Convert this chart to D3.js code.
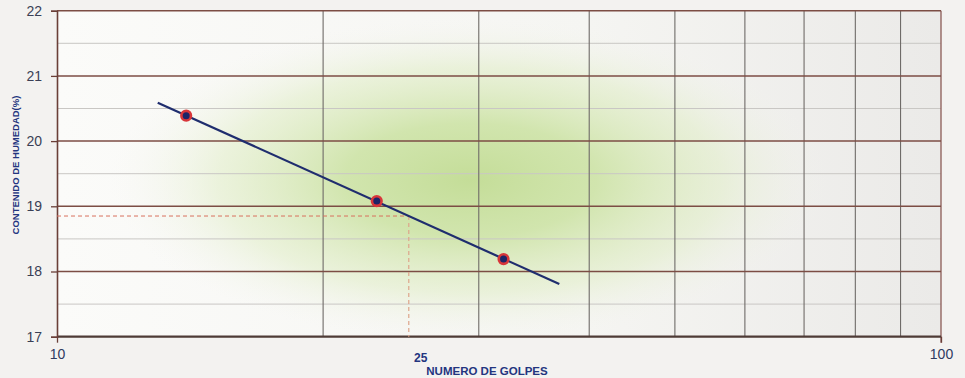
<!DOCTYPE html>
<html>
<head>
<meta charset="utf-8">
<script src="https://cdn.jsdelivr.net/npm/d3@7"></script>
<style>
  html, body { margin: 0; padding: 0; background: #f3f2f0; }
  svg { display: block; }
</style>
</head>
<body>
<svg id="chart" width="965" height="378"></svg>
<script>
// Liquid limit test: number of blows vs. moisture content
const golpes = [14, 23, 32];
const humedad = [20.39, 19.08, 18.19];
const xTicks = [10, 100];
const xGrid = [20, 30, 40, 50, 60, 70, 80, 90];
const yTicks = [17, 18, 19, 20, 21, 22];
const yMinor = [17.5, 18.5, 19.5, 20.5, 21.5];
const fitRange = [13, 37];
const golpesRef = 25;

const W = 965, H = 378;
const m = { left: 57, right: 24, top: 10.7, bottom: 41.3 };
const svg = d3.select("#chart");

const x = d3.scaleLog().domain([10, 100]).range([m.left, W - m.right]);
const y = d3.scaleLinear().domain([17, 22]).range([H - m.bottom, m.top]);

// Least-squares fit of moisture against log10(blows)
const lx = golpes.map(Math.log10);
const mx = d3.mean(lx), my = d3.mean(humedad);
const slope = d3.sum(lx, (v, i) => (v - mx) * (humedad[i] - my)) / d3.sum(lx, v => (v - mx) ** 2);
const fit = g => my + slope * (Math.log10(g) - mx);
const wRef = fit(golpesRef);

const defs = svg.append("defs");
const bg = defs.append("linearGradient").attr("id", "bg").attr("x1", 0).attr("x2", 1).attr("y1", 0).attr("y2", 0);
bg.append("stop").attr("offset", 0).attr("stop-color", "#fbfbf9");
bg.append("stop").attr("offset", 0.6).attr("stop-color", "#f5f5f2");
bg.append("stop").attr("offset", 1).attr("stop-color", "#ebeae8");

const glow = defs.append("radialGradient").attr("id", "glow")
  .attr("gradientUnits", "userSpaceOnUse")
  .attr("cx", 470).attr("cy", 180).attr("r", 360)
  .attr("gradientTransform", "translate(470,180) scale(1,0.45) translate(-470,-180)");
glow.append("stop").attr("offset", 0).attr("stop-color", "#c4dd98").attr("stop-opacity", 1);
glow.append("stop").attr("offset", 0.35).attr("stop-color", "#cde3a6").attr("stop-opacity", 0.9);
glow.append("stop").attr("offset", 0.7).attr("stop-color", "#e0edc6").attr("stop-opacity", 0.55);
glow.append("stop").attr("offset", 1).attr("stop-color", "#f4f4ef").attr("stop-opacity", 0);

const x0 = x(10), x1 = x(100), y0 = y(17), y1 = y(22);

svg.append("rect").attr("x", x0).attr("y", y1).attr("width", x1 - x0).attr("height", y0 - y1).attr("fill", "url(#bg)");
svg.append("rect").attr("x", x0).attr("y", y1).attr("width", x1 - x0).attr("height", y0 - y1).attr("fill", "url(#glow)");

// Half-unit guide lines
svg.append("g").selectAll("line").data(yMinor).join("line")
  .attr("x1", x0).attr("x2", x1).attr("y1", d => y(d)).attr("y2", d => y(d))
  .attr("stroke", "#c9c7c4").attr("stroke-width", 1);

// Vertical grid at log decades
svg.append("g").selectAll("line").data(xGrid).join("line")
  .attr("x1", d => x(d)).attr("x2", d => x(d)).attr("y1", y1).attr("y2", y0)
  .attr("stroke", "#6f6b68").attr("stroke-width", 1.1);
svg.append("line").attr("x1", x1).attr("x2", x1).attr("y1", y1).attr("y2", y0 + 6)
  .attr("stroke", "#8a5a55").attr("stroke-width", 1.3);

// Major horizontal lines
svg.append("g").selectAll("line").data(yTicks.filter(d => d > 17)).join("line")
  .attr("x1", x0).attr("x2", x1).attr("y1", d => y(d)).attr("y2", d => y(d))
  .attr("stroke", "#7c4d44").attr("stroke-width", 1.5);
svg.append("line").attr("x1", x0).attr("x2", x1).attr("y1", y0).attr("y2", y0)
  .attr("stroke", "#4e3b36").attr("stroke-width", 2.2);

// Left axis
const yAxis = svg.append("g").attr("transform", `translate(${x0},0)`)
  .call(d3.axisLeft(y).tickValues(yTicks).tickSize(6).tickPadding(9).tickFormat(d3.format("d")));
yAxis.select(".domain").attr("stroke", "#6a3f38").attr("stroke-width", 1.6);
yAxis.selectAll(".tick line").attr("stroke", "#6a3f38").attr("stroke-width", 1.3);
yAxis.selectAll("text").attr("font-family", "Liberation Sans, Arial, sans-serif")
  .attr("font-size", 14).attr("fill", "#3a3f55");

// Bottom axis labels
const xAxis = svg.append("g").attr("transform", `translate(0,${y0})`)
  .call(d3.axisBottom(x).tickValues(xTicks).tickSize(6).tickPadding(6).tickFormat(d3.format("d")));
xAxis.select(".domain").remove();
xAxis.selectAll(".tick line").attr("stroke", "#6a3f38").attr("stroke-width", 1.3);
xAxis.selectAll("text").attr("font-family", "Liberation Sans, Arial, sans-serif")
  .attr("font-size", 14).attr("fill", "#2f3a60");

// Reference at 25 blows
svg.append("line").attr("x1", x0).attr("x2", x(golpesRef)).attr("y1", y(wRef)).attr("y2", y(wRef))
  .attr("stroke", "#d8705e").attr("stroke-width", 1).attr("stroke-dasharray", "4,3");
svg.append("line").attr("x1", x(golpesRef)).attr("x2", x(golpesRef)).attr("y1", y(wRef)).attr("y2", y0)
  .attr("stroke", "#dea58c").attr("stroke-width", 1.2).attr("stroke-dasharray", "4,3");

// Flow line
svg.append("line")
  .attr("x1", x(fitRange[0])).attr("y1", y(fit(fitRange[0])))
  .attr("x2", x(fitRange[1])).attr("y2", y(fit(fitRange[1])))
  .attr("stroke", "#1f2d6e").attr("stroke-width", 2.2);

// Test points
svg.append("g").selectAll("circle").data(golpes).join("circle")
  .attr("cx", d => x(d)).attr("cy", (d, i) => y(humedad[i])).attr("r", 4.8)
  .attr("fill", "#1d2468").attr("stroke", "#d8363a").attr("stroke-width", 2.6);

// Titles
svg.append("text").attr("x", x(golpesRef) + 12).attr("y", 362)
  .attr("font-family", "Liberation Sans, Arial, sans-serif").attr("font-weight", "bold")
  .attr("font-size", 12).attr("fill", "#23357f").attr("text-anchor", "middle").text(golpesRef);
svg.append("text").attr("x", 487).attr("y", 375)
  .attr("font-family", "Liberation Sans, Arial, sans-serif").attr("font-weight", "bold")
  .attr("font-size", 11.5).attr("fill", "#23357f").attr("text-anchor", "middle").text("NUMERO DE GOLPES");
svg.append("text").attr("transform", "translate(19,165) rotate(-90)")
  .attr("font-family", "Liberation Sans, Arial, sans-serif").attr("font-weight", "bold")
  .attr("font-size", 9.5).attr("fill", "#23357f").attr("text-anchor", "middle").text("CONTENIDO DE HUMEDAD(%)");
</script>
</body>
</html>
